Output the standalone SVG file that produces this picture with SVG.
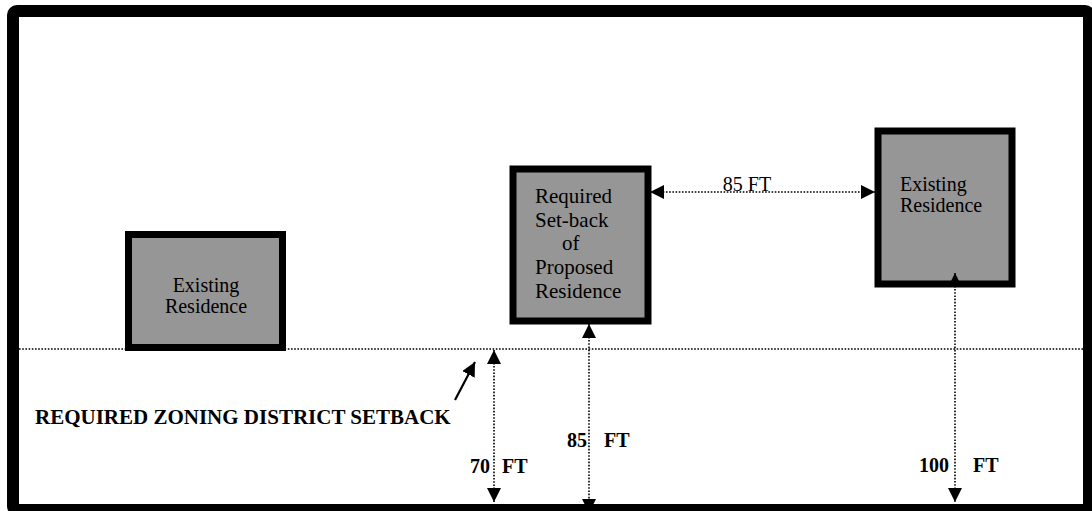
<svg xmlns="http://www.w3.org/2000/svg" width="1092" height="511" viewBox="0 0 1092 511">
<style>
.box{fill:#969696;stroke:#000;stroke-width:7}
.t{font-family:"Liberation Serif","Times New Roman",serif;font-size:20px;fill:#000}
.b{font-family:"Liberation Serif","Times New Roman",serif;font-size:20px;font-weight:bold;fill:#000}
.dot{stroke:#000;stroke-width:1.6;stroke-dasharray:1.6 1.6;fill:none}
</style>
<defs>
<marker id="ah" viewBox="0 0 14 14" refX="14" refY="7" markerWidth="14" markerHeight="14" markerUnits="userSpaceOnUse" orient="auto-start-reverse"><path d="M0,0 L14,7 L0,14 z" fill="#000"/></marker>
<marker id="ahs" viewBox="0 0 14 14" refX="14" refY="7" markerWidth="14" markerHeight="14" markerUnits="userSpaceOnUse" orient="auto"><path d="M0,0 L14,7 L0,14 z" fill="#000"/></marker>
</defs>
<rect width="1092" height="511" fill="#fff"/>
<line id="setback-line" class="dot" x1="19" y1="349" x2="1083" y2="349"/>
<g id="left-residence">
<rect class="box" x="128.5" y="234.5" width="154" height="113"/>
<text class="t" x="206" y="292" text-anchor="middle">Existing</text>
<text class="t" x="206" y="313" text-anchor="middle">Residence</text>
</g>
<g id="proposed-residence">
<rect class="box" x="513" y="169" width="135" height="152"/>
<text class="t" x="535" y="203" style="font-size:21px">Required</text>
<text class="t" x="535" y="227" style="font-size:21px">Set-back</text>
<text class="t" x="562" y="250" style="font-size:21px">of</text>
<text class="t" x="535" y="274" style="font-size:21px">Proposed</text>
<text class="t" x="535" y="298" style="font-size:21px">Residence</text>
</g>
<g id="right-residence">
<rect class="box" x="878" y="131" width="134" height="153"/>
<text class="t" x="900" y="191">Existing</text>
<text class="t" x="900" y="212">Residence</text>
</g>
<g id="connectors">
<line class="dot" x1="650" y1="192" x2="875" y2="192" marker-start="url(#ah)" marker-end="url(#ah)"/>
<line class="dot" x1="494" y1="350" x2="494" y2="502" marker-start="url(#ah)" marker-end="url(#ah)"/>
<line class="dot" x1="589" y1="324" x2="589" y2="513" marker-start="url(#ah)" marker-end="url(#ah)"/>
<line class="dot" x1="955" y1="273" x2="955" y2="502" marker-start="url(#ah)" marker-end="url(#ah)"/>
<line x1="455" y1="400" x2="475" y2="362" stroke="#000" stroke-width="2.2" marker-end="url(#ahs)"/>
</g>
<g id="labels">
<text class="t" x="747" y="191" text-anchor="middle">85 FT</text>
<text class="b" x="490" y="473" text-anchor="end">70</text>
<text class="b" x="502" y="473">FT</text>
<text class="b" x="587" y="447" text-anchor="end">85</text>
<text class="b" x="604" y="447">FT</text>
<text class="b" x="949" y="472" text-anchor="end">100</text>
<text class="b" x="973" y="472">FT</text>
<text class="b" x="35" y="424" style="font-size:21px">REQUIRED ZONING DISTRICT SETBACK</text>
</g>
<rect id="frame" x="13" y="11" width="1076" height="499" rx="4" fill="none" stroke="#000" stroke-width="12"/>
</svg>
